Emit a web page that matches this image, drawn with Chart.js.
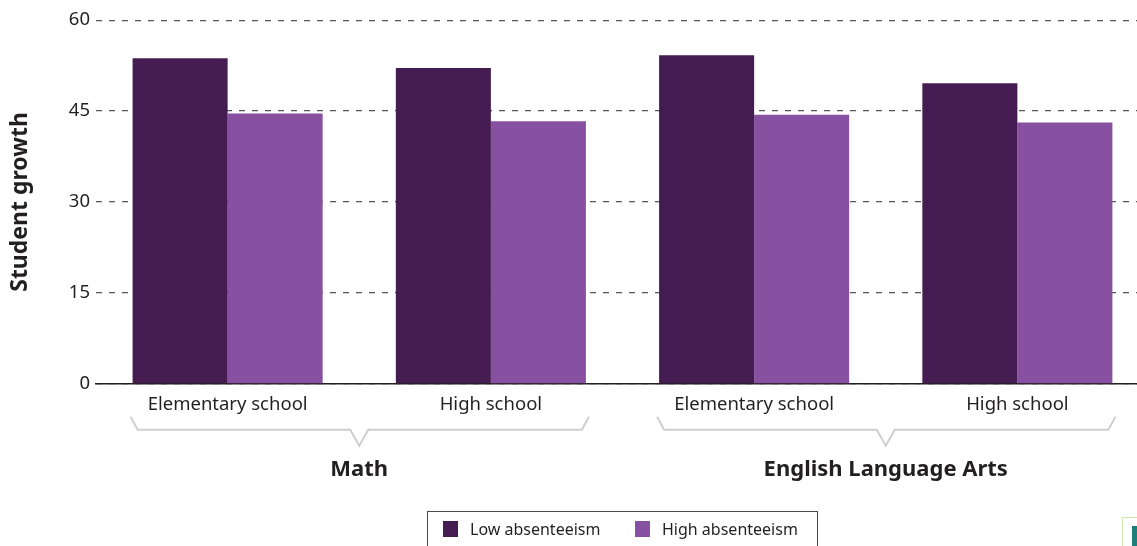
<!DOCTYPE html>
<html>
<head>
<meta charset="utf-8">
<script src="https://cdn.jsdelivr.net/npm/chart.js@4.4.1/dist/chart.umd.min.js"></script>
<style>
  html, body { margin: 0; padding: 0; background: #fff; overflow: hidden; }
  #wrap { position: relative; width: 1160px; height: 546px; }
  #growthChart { position: absolute; left: 0; top: 3px; }
  #legend {
    position: absolute; left: 427px; top: 511px; width: 391px; height: 50px;
    border: 1.5px solid #4a4a4a; box-sizing: border-box;
    font-family: "Noto Sans", sans-serif; font-size: 16px; color: #231f20;
  }
  #legend .item { position: absolute; top: 6px; display: flex; align-items: center; }
  #legend .sw { width: 15px; height: 16px; margin-right: 12px; }
  #stamp {
    position: absolute; left: 1122px; top: 517px; width: 30px; height: 40px;
    border: 1.5px solid #cfe6b0; box-sizing: border-box;
  }
  #stamp span { position: absolute; left: 9px; top: 8px; width: 6px; height: 30px; background: #1d7f78; }
</style>
</head>
<body>
<div id="wrap">
  <canvas id="growthChart" width="1160" height="543"></canvas>
  <div id="legend"></div>
  <div id="stamp"><span></span></div>
</div>
<script>
// values
const subjects = ['Math', 'English Language Arts'];
const schoolLevels = ['Elementary school', 'High school', 'Elementary school', 'High school'];
const lowAbsenteeism = [53.7, 52.1, 54.2, 49.6];
const highAbsenteeism = [44.6, 43.3, 44.4, 43.1];
const yTicks = [0, 15, 30, 45, 60];

const ink = '#231f20';
const catPct = 0.722;

// brackets + subject names under the category labels
const groupBrackets = {
  id: 'groupBrackets',
  afterDraw(chart) {
    const { ctx, chartArea, scales: { x } } = chart;
    const cw = x.getPixelForValue(1) - x.getPixelForValue(0);
    const half = cw * catPct / 2;
    const b = chartArea.bottom;
    subjects.forEach((name, g) => {
      const c0 = x.getPixelForValue(g * 2);
      const c1 = x.getPixelForValue(g * 2 + 1);
      const l = c0 - half - 2, r = c1 + half + 3, m = (c0 + c1) / 2;
      ctx.save();
      ctx.strokeStyle = '#cfcfcf';
      ctx.lineWidth = 2;
      ctx.beginPath();
      ctx.moveTo(l, b + 33);
      ctx.lineTo(l + 7, b + 46);
      ctx.lineTo(m - 9, b + 46);
      ctx.lineTo(m, b + 62);
      ctx.lineTo(m + 9, b + 46);
      ctx.lineTo(r - 7, b + 46);
      ctx.lineTo(r, b + 33);
      ctx.stroke();
      ctx.fillStyle = ink;
      ctx.font = 'bold 22px "Noto Sans"';
      ctx.textAlign = 'center';
      ctx.textBaseline = 'middle';
      ctx.fillText(name, m, b + 86);
      ctx.restore();
    });
  }
};

const chart = new Chart(document.getElementById('growthChart'), {
  type: 'bar',
  data: {
    labels: schoolLevels,
    datasets: [
      { label: 'Low absenteeism', data: lowAbsenteeism, backgroundColor: '#441c52' },
      { label: 'High absenteeism', data: highAbsenteeism, backgroundColor: '#8750a1' }
    ]
  },
  options: {
    responsive: false,
    animation: false,
    devicePixelRatio: 1,
    layout: { padding: { top: 14, right: 11, bottom: 120, left: 0 } },
    datasets: { bar: { barPercentage: 1, categoryPercentage: catPct } },
    plugins: {
      legend: { display: false },
      tooltip: { enabled: false }
    },
    scales: {
      x: {
        grid: { display: false, drawTicks: false },
        border: { display: true, color: ink, width: 1.5 },
        ticks: { color: ink, padding: 10, font: { family: 'Noto Sans', size: 18.5 } }
      },
      y: {
        min: 0,
        max: 60,
        afterFit(scale) { scale.width = 96; },
        afterBuildTicks(scale) { scale.ticks = yTicks.map(v => ({ value: v })); },
        grid: { color: '#555', lineWidth: 1.2, drawTicks: false },
        border: { display: false, dash: [6, 7] },
        ticks: { color: ink, padding: 6, font: { family: 'Noto Sans', size: 18.5 } },
        title: {
          display: true,
          text: 'Student growth',
          color: ink,
          padding: { top: 7, bottom: 0 },
          font: { family: 'Noto Sans', size: 23, weight: 'bold' }
        }
      }
    }
  },
  plugins: [groupBrackets]
});

// html legend built from the datasets
const legend = document.getElementById('legend');
const legendX = [15, 207];
chart.data.datasets.forEach((ds, i) => {
  const item = document.createElement('div');
  item.className = 'item';
  item.style.left = legendX[i] + 'px';
  item.innerHTML = '<span class="sw" style="background:' + ds.backgroundColor + '"></span>' + ds.label;
  legend.appendChild(item);
});
</script>
</body>
</html>
